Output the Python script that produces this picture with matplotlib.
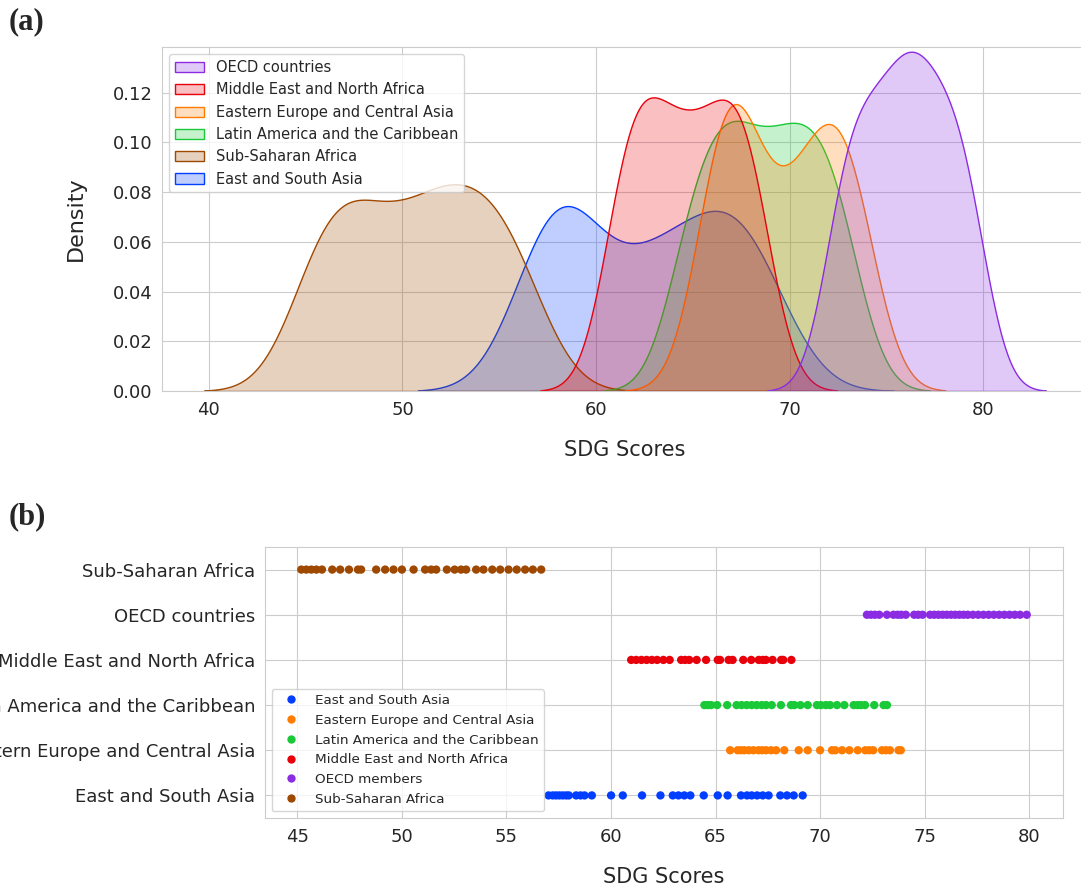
import pandas as pd
import matplotlib
matplotlib.use("Agg")
import matplotlib.pyplot as plt
import seaborn as sns

# SDG scores per region (panel b)
east_south_asia = [57.01, 57.21, 57.37, 57.53, 57.69, 57.85, 57.98, 58.33, 58.54, 58.73,
                   59.08, 60.0, 60.56, 61.48, 62.36, 62.95, 63.22, 63.5, 63.79, 64.43,
                   65.1, 65.57, 66.21, 66.5, 66.72, 66.98, 67.25, 67.53, 68.09, 68.41,
                   68.73, 69.16]
eastern_europe = [65.69, 66.05, 66.21, 66.37, 66.58, 66.8, 67.05, 67.22, 67.41, 67.65,
                  67.89, 68.28, 68.97, 69.4, 69.99, 70.56, 70.72, 71.04, 71.39, 71.79,
                  72.15, 72.34, 72.53, 72.95, 73.14, 73.33, 73.74, 73.85]
latin_america = [64.46, 64.62, 64.78, 65.07, 65.55, 66.0, 66.24, 66.48, 66.72, 66.96,
                 67.2, 67.41, 67.68, 68.12, 68.6, 68.76, 69.05, 69.4, 69.84, 70.03,
                 70.27, 70.47, 70.8, 71.15, 71.6, 71.79, 71.95, 72.14, 72.58, 73.03,
                 73.19]
middle_east = [60.96, 61.2, 61.45, 61.7, 61.95, 62.2, 62.5, 62.8, 63.35, 63.54,
               63.74, 64.09, 64.54, 65.1, 65.21, 65.62, 65.81, 66.32, 66.7, 67.06,
               67.25, 67.4, 67.72, 68.13, 68.23, 68.62]
oecd = [72.23, 72.42, 72.61, 72.82, 73.19, 73.5, 73.7, 73.87, 74.09, 74.49,
        74.68, 74.89, 75.25, 75.45, 75.65, 75.85, 76.05, 76.25, 76.45, 76.65,
        76.85, 77.05, 77.3, 77.55, 77.8, 78.05, 78.3, 78.55, 78.8, 79.05,
        79.3, 79.55, 79.87]
sub_saharan = [45.19, 45.43, 45.67, 45.91, 46.18, 46.67, 47.05, 47.47, 47.9, 48.05,
               48.77, 49.2, 49.6, 50.0, 50.56, 51.11, 51.4, 51.64, 52.15, 52.52,
               52.83, 53.07, 53.55, 53.9, 54.32, 54.7, 55.1, 55.49, 55.89, 56.26,
               56.66]

regions = {
    "East and South Asia": east_south_asia,
    "Eastern Europe and Central Asia": eastern_europe,
    "Latin America and the Caribbean": latin_america,
    "Middle East and North Africa": middle_east,
    "OECD countries": oecd,
    "Sub-Saharan Africa": sub_saharan,
}

rows = []
for name, vals in regions.items():
    group = "OECD members" if name == "OECD countries" else name
    for v in vals:
        rows.append({"Region": name, "Group": group, "SDG Scores": v})
df = pd.DataFrame(rows)

kde_order = ["OECD countries", "Middle East and North Africa", "Eastern Europe and Central Asia",
             "Latin America and the Caribbean", "Sub-Saharan Africa", "East and South Asia"]
strip_rows = ["Sub-Saharan Africa", "OECD countries", "Middle East and North Africa",
              "Latin America and the Caribbean", "Eastern Europe and Central Asia", "East and South Asia"]
strip_hue = ["East and South Asia", "Eastern Europe and Central Asia", "Latin America and the Caribbean",
             "Middle East and North Africa", "OECD members", "Sub-Saharan Africa"]

bright = sns.color_palette("bright")
kde_colors = {
    "East and South Asia": bright[0],
    "Eastern Europe and Central Asia": bright[1],
    "Latin America and the Caribbean": bright[2],
    "Middle East and North Africa": bright[3],
    "OECD countries": bright[4],
    "Sub-Saharan Africa": bright[5],
}

sns.set_style("whitegrid")
plt.rcParams["font.family"] = ["DejaVu Sans"]

fig = plt.figure(figsize=(10.81, 8.85), dpi=100)
ax1 = fig.add_axes([162 / 1081, 1 - 391 / 885, 926 / 1081, 344 / 885])
ax2 = fig.add_axes([265 / 1081, 1 - 818 / 885, 798 / 1081, 271 / 885])

# (a) density of scores per region
sns.kdeplot(data=df, x="SDG Scores", hue="Region", hue_order=kde_order, palette=kde_colors,
            fill=True, common_norm=False, alpha=0.25, linewidth=1, ax=ax1)
ax1.set_ylim(0, 0.1384)
ax1.set_xlabel("SDG Scores", fontsize=15, labelpad=15)
ax1.set_ylabel("Density", fontsize=16, labelpad=19)
ax1.tick_params(labelsize=13)
sns.move_legend(ax1, "upper left", title=None, fontsize=10.5)

# (b) individual scores
sns.stripplot(data=df, x="SDG Scores", y="Region", hue="Group", order=strip_rows,
              hue_order=strip_hue, palette="bright", jitter=False, size=6, ax=ax2)
ax2.set_xlabel("SDG Scores", fontsize=15, labelpad=15)
ax2.set_ylabel("")
ax2.tick_params(labelsize=13)
ax2.grid(True, axis="y")
sns.move_legend(ax2, "lower left", title=None, fontsize=9.7)

fig.text(0.008, 0.992, "(a)", family="Liberation Serif", weight="bold", fontsize=22, va="top")
fig.text(0.008, 0.432, "(b)", family="Liberation Serif", weight="bold", fontsize=22, va="top")

fig.savefig("out.png", dpi=100)
